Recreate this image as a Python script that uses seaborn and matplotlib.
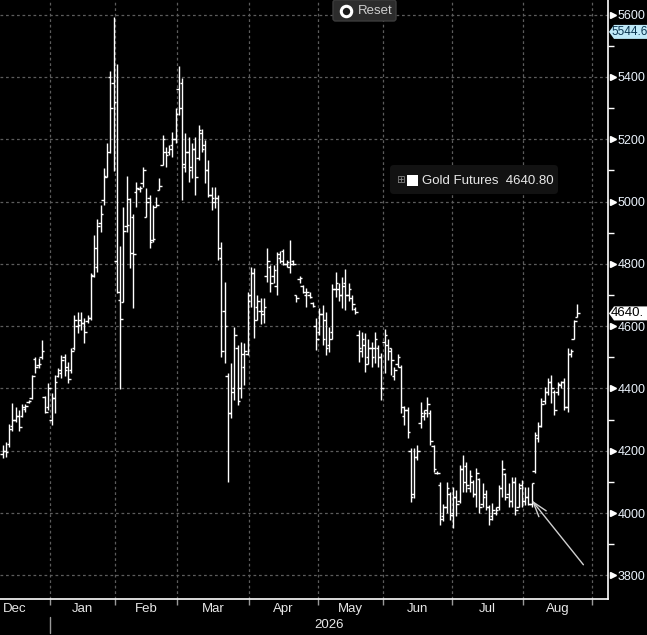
import numpy as np
import pandas as pd
import matplotlib
matplotlib.use("Agg")
import matplotlib.pyplot as plt
import matplotlib.transforms as mtransforms
from matplotlib.patches import FancyBboxPatch, Polygon, Rectangle
from matplotlib.lines import Line2D
import seaborn as sns

# ---------------- data ----------------
opens = [4190, 4200, 4220, 4280, 4300, 4310, 4310, 4335, 4355, 4370, 4495, 4475, 4500, 4373, 4340,
         4300, 4370, 4440, 4450, 4500, 4470, 4460, 4530, 4600, 4620, 4610, 4615, 4625, 4760, 4790, 4930,
         5005, 5080, 5400, 5380,
         4810, 4684, 4678, 4920, 5008, 4950, 5030, 5040, 5060, 4950, 5010, 4875, 4983, 5037, 5117, 5160,
         5160, 5180, 5200,
         5360, 5380, 5110, 5160, 5110, 5170, 5140, 5220, 5180, 5100, 5020, 5000, 5010, 4820, 4650, 4440,
         4320, 4400, 4530, 4400, 4470, 4510,
         4700, 4770, 4660, 4650, 4640, 4760, 4790, 4760, 4730, 4820, 4840, 4800, 4790, 4810, 4700, 4750,
         4730, 4700, 4700, 4675, 4600,
         4580, 4640, 4620, 4540, 4580, 4720, 4720, 4700, 4740, 4700, 4690, 4655, 4570, 4520, 4540, 4500,
         4530, 4530, 4530, 4500,
         4550, 4540, 4530, 4440, 4480, 4470, 4310, 4330, 4200, 4060, 4180, 4290, 4310, 4330, 4320, 4215,
         4130, 4090, 3990, 4020, 4060,
         4000, 4050, 4040, 4140, 4150, 4080, 4100, 4060, 4110, 4030, 4060, 4020, 3990, 4000, 4020, 4080,
         4125, 4060, 4040, 4100, 4020, 4090,
         4040, 4050, 4030, 4135, 4240, 4280, 4360, 4390, 4420, 4390, 4390, 4410, 4420, 4340, 4510, 4560,
         4630]
highs = [4218, 4229, 4286, 4353, 4341, 4330, 4350, 4350, 4363, 4443, 4501, 4498, 4556, 4375, 4418,
         4385, 4443, 4466, 4507, 4510, 4485, 4530, 4636, 4646, 4646, 4626, 4636, 4771, 4893, 4944, 4989,
         5108, 5188, 5419, 5592,
         5441, 4857, 4983, 5082, 5011, 4960, 5063, 5050, 5111, 5043, 5021, 4989, 5015, 5075, 5214, 5175,
         5180, 5223, 5300,
         5435, 5397, 5220, 5207, 5188, 5207, 5246, 5233, 5198, 5133, 5047, 5047, 5021, 4870, 4742, 4450,
         4482, 4597, 4540, 4549, 4546, 4710,
         4790, 4787, 4700, 4690, 4690, 4851, 4796, 4796, 4838, 4841, 4848, 4812, 4877, 4812, 4700, 4760,
         4732, 4722, 4710, 4678, 4626,
         4658, 4668, 4646, 4597, 4735, 4774, 4740, 4758, 4783, 4740, 4700, 4661, 4588, 4580, 4578, 4560,
         4550, 4581, 4540, 4514,
         4591, 4560, 4530, 4469, 4510, 4475, 4344, 4341, 4209, 4209, 4219, 4357, 4330, 4373, 4331, 4219,
         4135, 4100, 4030, 4100, 4068,
         4084, 4074, 4154, 4186, 4164, 4138, 4106, 4145, 4112, 4097, 4074, 4026, 4032, 4020, 4090, 4170,
         4129, 4097, 4116, 4116, 4097, 4106,
         4084, 4084, 4097, 4260, 4292, 4369, 4405, 4434, 4443, 4395, 4420, 4425, 4434, 4530, 4528, 4620,
         4671]
lows = [4177, 4181, 4213, 4264, 4293, 4264, 4308, 4324, 4353, 4366, 4451, 4465, 4495, 4322, 4331,
        4283, 4321, 4437, 4434, 4440, 4417, 4450, 4523, 4578, 4588, 4546, 4610, 4620, 4758, 4774, 4902,
        4990, 5079, 5156, 5098,
        4706, 4398, 4678, 4902, 4787, 4658, 4983, 5030, 5047, 4950, 4851, 4870, 4983, 5037, 5117, 5111,
        5150, 5143, 5188,
        5278, 5005, 5095, 5063, 5076, 5021, 5133, 5159, 5060, 5015, 4973, 4980, 4812, 4501, 4482, 4100,
        4305, 4363, 4347, 4369, 4411, 4507,
        4662, 4562, 4620, 4607, 4610, 4742, 4710, 4738, 4700, 4803, 4795, 4790, 4771, 4796, 4678, 4740,
        4706, 4661, 4691, 4661, 4523,
        4572, 4540, 4507, 4517, 4560, 4694, 4680, 4658, 4652, 4680, 4652, 4640, 4485, 4500, 4453, 4480,
        4470, 4482, 4470, 4363,
        4450, 4490, 4443, 4427, 4470, 4321, 4283, 4241, 4036, 4048, 4170, 4273, 4300, 4308, 4219, 4132,
        4125, 3962, 3975, 4000, 3978,
        3952, 3990, 4032, 4068, 4068, 4068, 4052, 4020, 4000, 4020, 4010, 3962, 3978, 3994, 4010, 4052,
        4042, 4020, 4020, 3994, 4020, 4020,
        4026, 4026, 4020, 4129, 4228, 4276, 4350, 4380, 4353, 4315, 4380, 4400, 4331, 4325, 4500, 4559,
        4630]
closes = [4200, 4195, 4270, 4300, 4310, 4275, 4340, 4345, 4360, 4440, 4470, 4480, 4520, 4325, 4400,
          4370, 4420, 4460, 4490, 4460, 4430, 4520, 4620, 4605, 4610, 4580, 4625, 4765, 4850, 4920, 4960,
          5083, 5160, 5300, 5320,
          4711, 4623, 4906, 4925, 4836, 4830, 5045, 5045, 5100, 5000, 4870, 4880, 4990, 5050, 5200, 5150,
          5170, 5200, 5280,
          5300, 5120, 5160, 5100, 5170, 5080, 5230, 5170, 5100, 5020, 5010, 5010, 4850, 4520, 4600, 4320,
          4390, 4570, 4360, 4510, 4520, 4680,
          4770, 4620, 4680, 4650, 4660, 4810, 4740, 4780, 4830, 4810, 4800, 4805, 4800, 4800, 4690, 4755,
          4710, 4710, 4695, 4665, 4560,
          4640, 4560, 4530, 4560, 4720, 4740, 4700, 4730, 4700, 4720, 4670, 4645, 4530, 4560, 4480, 4530,
          4500, 4560, 4500, 4400,
          4570, 4520, 4490, 4460, 4500, 4340, 4330, 4260, 4050, 4180, 4200, 4320, 4320, 4350, 4230, 4140,
          4130, 3980, 4020, 4080, 3995,
          4050, 4030, 4140, 4100, 4090, 4120, 4060, 4130, 4020, 4050, 4020, 3980, 4010, 4010, 4080, 4140,
          4050, 4040, 4100, 4010, 4080, 4040,
          4050, 4030, 4095, 4250, 4280, 4350, 4390, 4420, 4400, 4330, 4415, 4420, 4340, 4510, 4520, 4615,
          4640.80]

series_name = "Gold Futures"
month_names = ["Dec", "Jan", "Feb", "Mar", "Apr", "May", "Jun", "Jul", "Aug"]
year_label = "2026"
y_ticks = [3800, 4000, 4200, 4400, 4600, 4800, 5000, 5200, 5400, 5600]
y_minor = [3900, 4100, 4300, 4500, 4700, 4900, 5100, 5300, 5500]
marker_value = 5544.6
last_flag_text = "4640."
holidays = ["2025-12-25", "2026-01-01", "2026-01-19", "2026-02-16", "2026-04-03",
            "2026-05-25", "2026-06-19", "2026-07-03", "2026-09-07"]

n = len(closes)
assert len(opens) == len(highs) == len(lows) == n

# trading-day calendar (x axis is a trading-day index, as on a Bloomberg bar chart)
cal = pd.bdate_range("2025-12-10", "2026-09-30", freq="C", holidays=holidays)
df = pd.DataFrame({"date": cal[:n], "open": opens, "high": highs, "low": lows, "close": closes})
df["pos"] = np.arange(n)

month_id = cal.to_period("M")
starts = [i for i in range(1, len(cal)) if month_id[i] != month_id[i - 1]]
boundaries = [s - 0.5 for s in starts]

# ---------------- styling ----------------
sns.set_theme(style="dark", rc={"axes.facecolor": "black", "figure.facecolor": "black"})
plt.rcParams["font.family"] = ["Liberation Sans", "DejaVu Sans"]

W, H = 647, 635
fig = plt.figure(figsize=(W / 100, H / 100), dpi=100, facecolor="black")
ax = fig.add_axes([0, 36 / H, 608 / W, 599 / H], facecolor="black")

X0, X1 = -0.8, 185.4
Y0, Y1 = 3724, 5647

# OHLC bars
ax.vlines(df["pos"], df["low"], df["high"], color="white", lw=1.0, zorder=3)
ax.hlines(df["open"], df["pos"] - 0.8, df["pos"], color="white", lw=1.0, zorder=3)
ax.hlines(df["close"], df["pos"], df["pos"] + 0.8, color="white", lw=1.0, zorder=3)

# ticks & grid
xb = [b for b in boundaries if b < X1]
ax.set_xticks(xb)
ax.set_xticklabels([])
ax.set_yticks(y_ticks)
ax.set_yticks(y_minor, minor=True)
ax.set_xlim(X0, X1)
ax.set_ylim(Y0, Y1)
ax.grid(True, which="major", color="#5c5c5c", lw=0.9, ls=(0, (2.2, 2.2)))
ax.grid(False, which="minor")

for s in ["top", "left"]:
    ax.spines[s].set_visible(False)
for s in ["right", "bottom"]:
    ax.spines[s].set_visible(True)
    ax.spines[s].set_color("white")
    ax.spines[s].set_linewidth(1.2)

ax.yaxis.tick_right()
ax.tick_params(axis="x", which="major", length=4, width=1, color="#9a9a9a", bottom=True)
ax.tick_params(axis="y", which="major", length=0, pad=7, labelsize=9, labelcolor="#eaf2fb")
ax.tick_params(axis="y", which="minor", length=4, width=1, color="white", right=True)

# triangles at major y ticks
tri_tr = mtransforms.blended_transform_factory(ax.transAxes, ax.transData)
ax.plot([1.0075] * len(y_ticks), y_ticks, ls="none", marker=">", ms=4.5, color="white",
        transform=tri_tr, clip_on=False, zorder=5)

# month labels
lab_tr = mtransforms.blended_transform_factory(ax.transData, ax.transAxes)
ax.text(0.005, -0.0175, month_names[0], transform=ax.transAxes, ha="left", va="center",
        color="#e8e8e8", fontsize=9.5)
for name, a, b in zip(month_names[1:], xb[:-1], xb[1:]):
    ax.text((a + b) / 2, -0.0175, name, transform=lab_tr, ha="center", va="center",
            color="#e8e8e8", fontsize=9.5)
ax.text((xb[0] + X1) / 2, -0.044, year_label, transform=lab_tr, ha="center", va="center",
        color="#e8e8e8", fontsize=9.5)
ax.plot([xb[0], xb[0]], [-0.030, -0.056], transform=lab_tr, color="#9a9a9a", lw=1,
        clip_on=False)

# arrow annotation
ax.annotate("", xy=(161.5, 4048), xytext=(178.4, 3827),
            arrowprops=dict(arrowstyle="->,head_length=0.9,head_width=0.28",
                            color="#d0d0d0", lw=1.0), zorder=6)

# ---------------- overlay widgets (figure pixel space) ----------------
def fx(px):
    return px / W

def fy(py):
    return 1 - py / H

# Reset button
fig.add_artist(FancyBboxPatch((fx(333), fy(21)), fx(63), 21 / H,
                              boxstyle="round,pad=0,rounding_size=0.004",
                              facecolor="#2c2c2c", edgecolor="#3c3c3c", lw=1,
                              transform=fig.transFigure, zorder=10))
fig.add_artist(Line2D([fx(346)], [fy(11)], marker="o", ms=7.5, mfc="#1a1a1a", mec="white",
                      mew=2.2, transform=fig.transFigure, zorder=11))
fig.text(fx(358), fy(11), "Reset", color="#cfcfcf", fontsize=9.5, va="center", ha="left",
         zorder=11)

# legend box
fig.add_artist(FancyBboxPatch((fx(390), fy(194)), fx(168), 29 / H,
                              boxstyle="round,pad=0,rounding_size=0.006",
                              facecolor="#121212", edgecolor="none",
                              transform=fig.transFigure, zorder=10))
fig.text(fx(400), fy(180), "\u229e", color="#8a8a8a", fontsize=7.5, va="center", ha="center",
         family=["DejaVu Sans"], zorder=11)
fig.add_artist(Rectangle((fx(407), fy(186)), fx(11), 11 / H, facecolor="white",
                         edgecolor="none", transform=fig.transFigure, zorder=11))
fig.text(fx(422), fy(180.5), f"{series_name}  {closes[-1]:.2f}", color="#e8e8e8",
         fontsize=9.5, va="center", ha="left", zorder=11)

# price flags on the right axis
fig.canvas.draw()
to_fig = ax.transData + fig.transFigure.inverted()

def flag(value, text, face, tcolor, size):
    _, yf = to_fig.transform((X1, value))
    yp = (1 - yf) * H
    pts = [(609, yp), (614, yp - 7), (W + 2, yp - 7), (W + 2, yp + 7), (614, yp + 7)]
    fig.add_artist(Polygon([(fx(a), fy(b)) for a, b in pts], closed=True, facecolor=face,
                           edgecolor="none", transform=fig.transFigure, zorder=12))
    fig.text(fx(611), fy(yp), text, color=tcolor, fontsize=size, va="center", ha="left",
             zorder=13)

flag(marker_value, f"{marker_value:.1f}", "#bfe9f8", "#0b3550", 8.5)
flag(closes[-1], last_flag_text, "white", "black", 9.5)

fig.savefig("out.png", dpi=100, facecolor="black")
